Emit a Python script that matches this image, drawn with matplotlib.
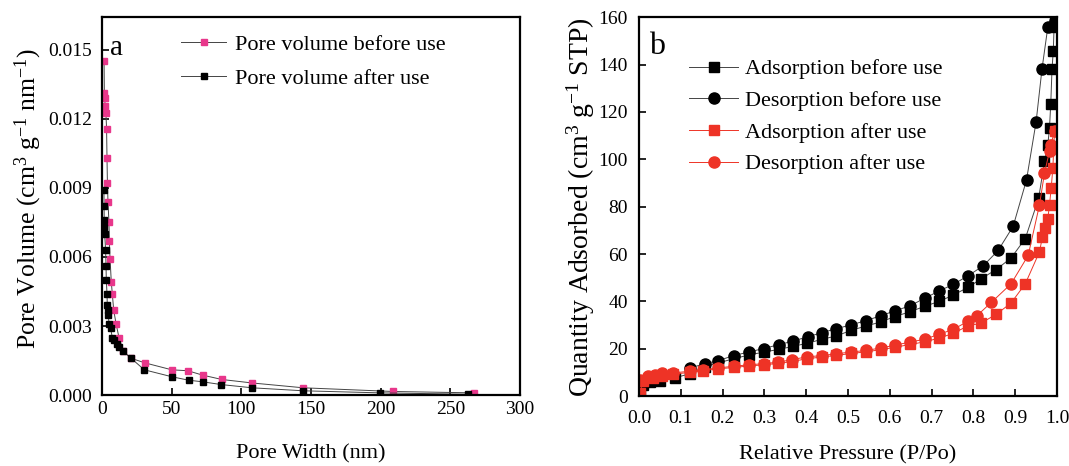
import matplotlib
matplotlib.use('Agg')
import matplotlib.pyplot as plt

plt.rcParams['font.family'] = ['Liberation Serif', 'DejaVu Serif']
plt.rcParams['mathtext.fontset'] = 'custom'
plt.rcParams['mathtext.rm'] = 'Liberation Serif'
plt.rcParams['mathtext.it'] = 'Liberation Serif:italic'
plt.rcParams['font.size'] = 16

# panel a: pore size distribution
width_before = [1.5, 1.7, 1.9, 2.3, 2.8, 3.3, 3.6, 3.9, 4.3, 5.0, 5.3, 5.8, 6.7, 7.4, 8.4,
                10.1, 12.2, 15.3, 20.9, 30.9, 50.1, 61.6, 72.2, 86.1, 107.7, 144.4, 208.9, 267.0]
vol_before = [0.0145, 0.0131, 0.0129, 0.01257, 0.01226, 0.01157, 0.0103, 0.0092, 0.0084, 0.0075,
              0.0067, 0.0059, 0.0049, 0.0044, 0.0037, 0.0031, 0.0025, 0.0019, 0.0016, 0.0014,
              0.0011, 0.00106, 0.00087, 0.00068, 0.00053, 0.00032, 0.00016, 0.0001]
width_after = [1.4, 1.5, 1.6, 1.7, 1.9, 2.6, 2.9, 3.1, 3.6, 3.8, 4.1, 4.6, 5.0, 6.2, 7.4,
               8.9, 10.5, 12.2, 15.3, 20.9, 30.4, 50.1, 62.1, 72.2, 85.6, 107.7, 144.4, 199.5, 262.4]
vol_after = [0.0089, 0.0082, 0.0076, 0.0073, 0.0070, 0.0063, 0.0056, 0.0050, 0.0044, 0.0039,
             0.0037, 0.0035, 0.0031, 0.0029, 0.0025, 0.0024, 0.0022, 0.0021, 0.0019, 0.0016,
             0.0011, 0.0008, 0.00065, 0.00058, 0.00046, 0.00032, 0.00019, 0.0001, 0.00004]

# panel b: isotherms
p_ads_before = [0.002, 0.010, 0.026, 0.050, 0.086, 0.122, 0.158, 0.190, 0.226, 0.262, 0.298, 0.334,
                0.368, 0.402, 0.438, 0.472, 0.508, 0.543, 0.578, 0.612, 0.648, 0.683, 0.718, 0.752,
                0.788, 0.818, 0.854, 0.890, 0.924, 0.956, 0.970, 0.978, 0.982, 0.985, 0.988, 0.991,
                0.993, 0.995]
q_ads_before = [2.0, 4.8, 5.8, 6.2, 7.7, 9.5, 12.5, 14.0, 15.8, 17.3, 18.6, 19.7, 21.0, 22.3, 24.0,
                25.4, 27.8, 29.6, 31.3, 33.6, 35.6, 37.9, 40.0, 42.7, 46.0, 49.5, 53.4, 58.3, 66.5,
                83.5, 99.1, 106.2, 113.3, 123.5, 138.1, 145.7, 155.9, 158.5]
p_des_before = [0.995, 0.978, 0.964, 0.950, 0.927, 0.895, 0.859, 0.824, 0.788, 0.752, 0.718, 0.683,
                0.648, 0.612, 0.578, 0.543, 0.508, 0.472, 0.438, 0.404, 0.368, 0.334, 0.298, 0.262,
                0.226, 0.190, 0.158, 0.122]
q_des_before = [158.5, 155.9, 138.1, 115.9, 91.3, 71.7, 61.5, 55.1, 50.9, 47.2, 44.4, 41.3, 38.1,
                36.0, 33.9, 31.9, 30.1, 28.5, 26.8, 25.1, 23.2, 21.7, 20.1, 18.6, 17.1, 15.0, 13.7, 11.9]
p_ads_after = [0.002, 0.010, 0.034, 0.054, 0.082, 0.122, 0.154, 0.190, 0.226, 0.262, 0.298, 0.332,
               0.366, 0.402, 0.438, 0.472, 0.508, 0.543, 0.578, 0.612, 0.648, 0.683, 0.718, 0.752,
               0.786, 0.818, 0.855, 0.890, 0.924, 0.958, 0.965, 0.972, 0.978, 0.982, 0.986, 0.990, 0.994]
q_ads_after = [1.5, 6.5, 7.8, 8.5, 9.3, 10.0, 10.8, 11.5, 12.1, 12.7, 13.2, 13.8, 14.6, 15.8, 16.5,
               17.2, 18.0, 18.7, 19.6, 20.6, 21.8, 22.9, 24.5, 26.5, 29.6, 30.8, 34.6, 39.3, 47.4,
               60.9, 67.2, 70.8, 75.0, 80.7, 87.8, 96.3, 111.9]
p_des_after = [0.994, 0.985, 0.982, 0.970, 0.958, 0.931, 0.890, 0.843, 0.808, 0.788, 0.752, 0.718,
               0.683, 0.648, 0.612, 0.578, 0.543, 0.508, 0.472, 0.438, 0.402, 0.366, 0.332, 0.298,
               0.262, 0.226, 0.190, 0.154, 0.122, 0.082, 0.054, 0.038, 0.022, 0.002]
q_des_after = [111.9, 106.0, 103.4, 94.2, 80.7, 59.4, 47.4, 39.6, 33.9, 31.7, 28.2, 26.1, 24.0, 22.8,
               21.5, 20.3, 19.3, 18.6, 17.9, 17.1, 16.6, 15.4, 14.3, 13.7, 13.2, 12.6, 11.9, 11.2,
               10.5, 9.8, 9.8, 9.1, 8.3, 6.9]

pink = '#e8378b'
red = '#ee3326'
line_gray = '#444444'

fig = plt.figure(figsize=(10.69, 4.66), dpi=100)
ax1 = fig.add_axes([0.0954, 0.152, 0.391, 0.811])
ax2 = fig.add_axes([0.5978, 0.150, 0.391, 0.813])

for ax in (ax1, ax2):
    ax.tick_params(direction='in', length=5, width=1.2, labelsize=14)
    for s in ax.spines.values():
        s.set_linewidth(1.6)
ax1.tick_params(axis='x', pad=4)
ax1.tick_params(axis='y', pad=7)
ax2.tick_params(axis='x', pad=10)
ax2.tick_params(axis='y', pad=8)

ax1.plot(width_before, vol_before, '-s', color=line_gray, lw=0.7, ms=4,
         mfc=pink, mec=pink, label='Pore volume before use')
ax1.plot(width_after, vol_after, '-s', color=line_gray, lw=0.7, ms=4,
         mfc='black', mec='black', label='Pore volume after use')
ax1.set_xlim(0, 300)
ax1.set_ylim(0, 0.0164)
ax1.set_xticks([0, 50, 100, 150, 200, 250, 300])
ax1.set_yticks([0, 0.003, 0.006, 0.009, 0.012, 0.015])
ax1.set_yticklabels(['0.000', '0.003', '0.006', '0.009', '0.012', '0.015'])
ax1.set_xlabel('Pore Width (nm)', fontsize=16, labelpad=19)
ax1.set_ylabel(r'Pore Volume (cm$^{3}$ g$^{-1}$ nm$^{-1}$)', fontsize=18.5, labelpad=3)
ax1.yaxis.label.set_y(0.52)
ax1.text(0.02, 0.899, 'a', transform=ax1.transAxes, fontsize=21, va='baseline')
ax1.legend(loc='upper left', bbox_to_anchor=(0.19, 0.955), frameon=False, fontsize=16,
           handlelength=2.0, handletextpad=0.4, labelspacing=0.6, borderpad=0, borderaxespad=0)

ax2.plot(p_ads_before, q_ads_before, '-s', color=line_gray, lw=0.7, ms=7,
         mfc='black', mec='black', label='Adsorption before use')
ax2.plot(p_des_before, q_des_before, '-o', color=line_gray, lw=0.7, ms=8,
         mfc='black', mec='black', label='Desorption before use')
ax2.plot(p_ads_after, q_ads_after, '-s', color=red, lw=0.7, ms=7,
         mfc=red, mec=red, label='Adsorption after use')
ax2.plot(p_des_after, q_des_after, '-o', color=red, lw=0.7, ms=8,
         mfc=red, mec=red, label='Desorption after use')
ax2.set_xlim(0, 1.0)
ax2.set_ylim(0, 160)
ax2.set_xticks([0.0, 0.1, 0.2, 0.3, 0.4, 0.5, 0.6, 0.7, 0.8, 0.9, 1.0])
ax2.set_xticklabels(['0.0', '0.1', '0.2', '0.3', '0.4', '0.5', '0.6', '0.7', '0.8', '0.9', '1.0'])
ax2.set_yticks([0, 20, 40, 60, 80, 100, 120, 140, 160])
ax2.set_xlabel('Relative Pressure (P/Po)', fontsize=16, labelpad=13)
ax2.set_ylabel(r'Quantity Adsorbed (cm$^{3}$ g$^{-1}$ STP)', fontsize=20, labelpad=1)
ax2.text(0.024, 0.902, 'b', transform=ax2.transAxes, fontsize=23, va='baseline')
ax2.legend(loc='upper left', bbox_to_anchor=(0.12, 0.89), frameon=False, fontsize=16,
           handlelength=2.2, handletextpad=0.3, labelspacing=0.5, borderpad=0, borderaxespad=0)

fig.savefig('out.png', dpi=100)
